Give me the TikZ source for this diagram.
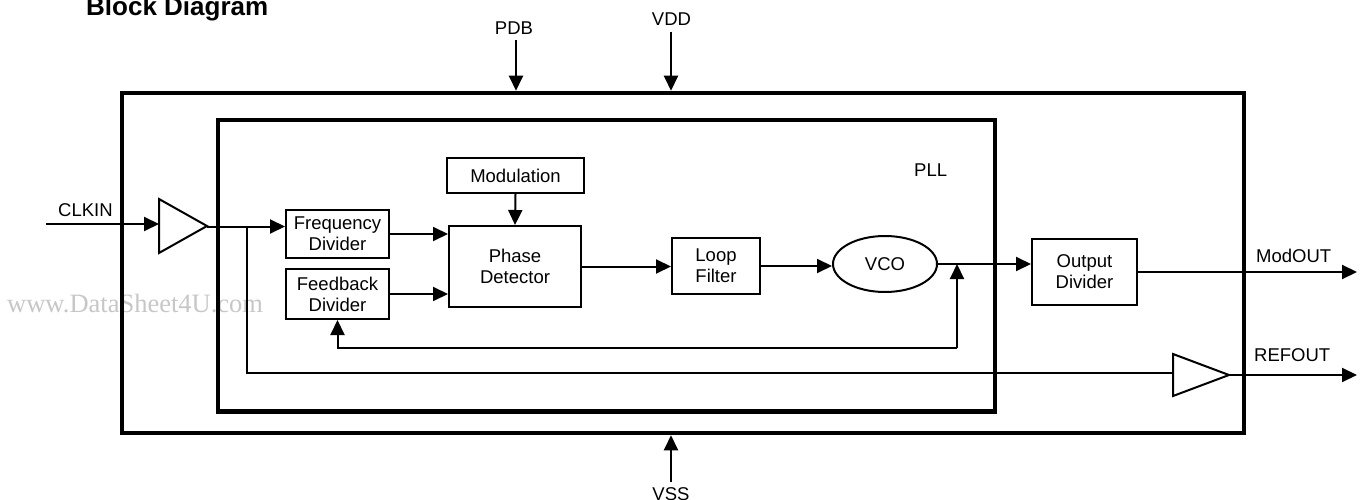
\documentclass[tikz,border=0pt]{standalone}
\usepackage{fontspec}
\setmainfont{Liberation Sans}
\newfontfamily\wmfont{Liberation Serif}
\usetikzlibrary{arrows.meta,shapes.geometric}
\begin{document}
\begin{tikzpicture}[x=1pt,y=-1pt,
  lbl/.style={font=\fontsize{18.5}{21}\selectfont,inner sep=0pt},
  blk/.style={draw,line width=2pt,align=center,inner sep=0pt,font=\fontsize{18.5}{21}\selectfont},
  frame/.style={draw,line width=4.5pt,inner sep=0pt},
  wire/.style={line width=2pt},
  arr/.style={wire,-{Triangle[length=15pt,width=14pt]}},
  buf/.style={draw,line width=2pt,line join=miter}]
\useasboundingbox (0,0) rectangle (1361,500);

% watermark (behind)
\node[anchor=base west,inner sep=0pt,text=black!22,font=\wmfont\fontsize{26.5}{26.5}\selectfont] (wm) at (7,312) {www.DataSheet4U.com};

% title
\node[anchor=base west,inner sep=0pt,font=\bfseries\fontsize{26}{26}\selectfont] (title) at (86,15.7) {Block Diagram};

% frames
\node[frame,minimum width=1122pt,minimum height=340pt] (chip) at (683,263) {};
\node[frame,minimum width=777pt,minimum height=291.5pt] (pll) at (606.5,265.75) {};
\node[lbl,anchor=base west] (plll) at (914,177) {PLL};

% blocks
\node[blk,minimum width=103pt,minimum height=48pt] (fd) at (337.5,234) {Frequency\\Divider};
\node[blk,minimum width=103pt,minimum height=50pt] (fbd) at (337.5,294) {Feedback\\Divider};
\node[blk,minimum width=137pt,minimum height=35pt] (mod) at (515.5,175.5) {Modulation};
\node[blk,minimum width=132pt,minimum height=81pt] (pd) at (515,266.5) {Phase\\Detector};
\node[blk,minimum width=88pt,minimum height=56pt] (lf) at (716,266) {Loop\\Filter};
\node[blk,ellipse,minimum width=104pt,minimum height=56pt] (vco) at (885,264) {VCO};
\node[blk,minimum width=105pt,minimum height=66pt] (od) at (1084.5,272) {Output\\Divider};

% buffers
\draw[buf] (159,199) -- (207,226) -- (159,253) -- cycle;
\coordinate (b1in) at (159,224);
\coordinate (b1out) at (207,226.5);
\draw[buf] (1173,354) -- (1229,375) -- (1173,396) -- cycle;
\coordinate (b2in) at (1173,373);
\coordinate (b2out) at (1229,375);

% external labels
\node[lbl,anchor=base] (pdbl) at (514,35) {PDB};
\node[lbl,anchor=base] (vddl) at (671.5,26) {VDD};
\node[lbl,anchor=base] (vssl) at (671,500) {VSS};
\node[lbl,anchor=base west] (clkinl) at (58,216) {CLKIN};
\node[lbl,anchor=base west] (modoutl) at (1256,262) {ModOUT};
\node[lbl,anchor=base west] (refoutl) at (1254,361) {REFOUT};

% free ends
\coordinate (pdbs) at (516,40);
\coordinate (vdds) at (671,32);
\coordinate (vsss) at (671,482);
\coordinate (clkin) at (46,224);
\coordinate (modout) at (1357,272);
\coordinate (refout) at (1357,375);
\coordinate (br) at (247,226.5);
\coordinate (fbx) at (957,348);

% connectors
\draw[arr] (pdbs) -- (pdbs |- chip.north);
\draw[arr] (vdds) -- (vdds |- chip.north);
\draw[arr] (vsss) -- (vsss |- chip.south);
\draw[arr] (clkin) -- (b1in);
\draw[arr] (b1out) -- (b1out -| fd.west);
\draw[wire] (br) |- (b2in);
\draw[arr] (b2out) -- (refout);
\draw[arr] (fd.east) -- (fd.east -| pd.west);
\draw[arr] (fbd.east) -- (fbd.east -| pd.west);
\draw[arr] (mod.south) -- (pd.north);
\draw[arr] (pd.east) -- (pd.east -| lf.west);
\draw[arr] (lf.east) -- (lf.east -| vco.west);
\draw[arr] (vco.east) -- (vco.east -| od.west);
\draw[arr] (fbx) -- (fbx |- vco.east);
\draw[arr] (fbx) -| (fbd.south);
\draw[arr] (od.east) -- (modout);
\end{tikzpicture}
\end{document}
